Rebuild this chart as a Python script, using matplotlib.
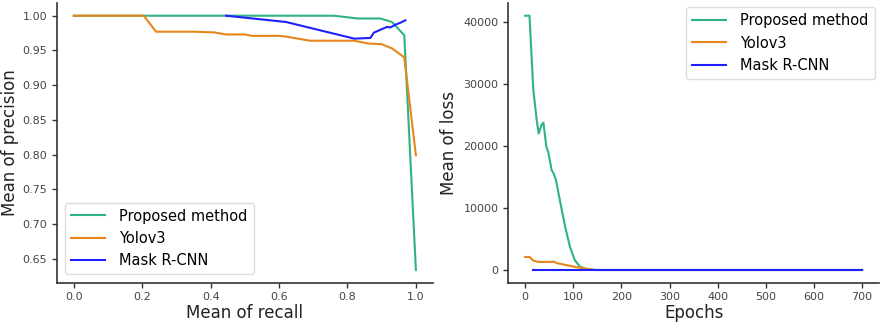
import matplotlib
matplotlib.use("Agg")
import matplotlib.pyplot as plt

# ---- Left: precision-recall ----
prop_recall = [0.0, 0.2, 0.4, 0.6, 0.76, 0.83, 0.896, 0.93, 0.966, 1.0]
prop_precision = [1.0, 1.0, 1.0, 1.0, 1.0, 0.996, 0.996, 0.991, 0.972, 0.634]

yolo_recall = [0.0, 0.2045, 0.2405, 0.35, 0.41, 0.445, 0.5, 0.52, 0.6, 0.62, 0.69, 0.82,
               0.86, 0.9, 0.93, 0.966, 1.0]
yolo_precision = [1.0, 1.0, 0.977, 0.977, 0.976, 0.973, 0.973, 0.971, 0.971, 0.970, 0.964,
                  0.964, 0.960, 0.959, 0.953, 0.940, 0.799]

mask_recall = [0.445, 0.62, 0.82, 0.867, 0.877, 0.916, 0.925, 0.94, 0.955, 0.969]
mask_precision = [1.0, 0.991, 0.967, 0.968, 0.9756, 0.984, 0.983, 0.987, 0.990, 0.9934]

# ---- Right: loss curves ----
prop_epochs = [0, 9, 17, 24, 28, 34, 38, 44, 48, 55, 59, 64, 72, 83, 93, 103, 114, 128, 141,
               150, 700]
prop_loss = [41000, 41000, 29000, 24200, 22000, 23400, 23760, 19900, 19000, 16100,
             15600, 14500, 11300, 7000, 3760, 1600, 530, 100, 0, 0, 0]

yolo_epochs = [0, 9, 17, 28, 52, 59, 66, 83, 107, 128, 148, 700]
yolo_loss = [2100, 2100, 1500, 1300, 1300, 1350, 1100, 830, 450, 200, 0, 0]

mask_epochs = [17, 700]
mask_loss = [0, 0]

labels = ["Proposed method", "Yolov3", "Mask R-CNN"]
colors = ["#2eb482", "#e8861c", "#1f1fff"]

plt.rcParams['font.family'] = ['DejaVu Sans']
fig = plt.figure(figsize=(8.8, 3.24), dpi=100)
ax1 = fig.add_axes([56.7 / 880, 1 - 282.7 / 324, (433 - 56.7) / 880, (282.7 - 3) / 324])
ax2 = fig.add_axes([508.3 / 880, 1 - 282.7 / 324, (879 - 508.3) / 880, (282.7 - 3) / 324])

lw = 1.5
ax1.plot(prop_recall, prop_precision, color=colors[0], lw=lw, label=labels[0])
ax1.plot(yolo_recall, yolo_precision, color=colors[1], lw=lw, label=labels[1])
ax1.plot(mask_recall, mask_precision, color=colors[2], lw=lw, label=labels[2])
ax1.set_xlabel("Mean of recall", fontsize=12, color="#222222", labelpad=1)
ax1.set_ylabel("Mean of precision", fontsize=12, color="#222222", labelpad=2)
ax1.set_xticks([0.0, 0.2, 0.4, 0.6, 0.8, 1.0])
ax1.set_yticks([0.65, 0.70, 0.75, 0.80, 0.85, 0.90, 0.95, 1.00])
ax1.legend(loc="lower left", fontsize=10.5, handlelength=2.3, handletextpad=1.0,
           borderaxespad=0.6, labelspacing=0.5, edgecolor="#dddddd", framealpha=1.0)

ax2.plot(prop_epochs, prop_loss, color=colors[0], lw=lw, label=labels[0])
ax2.plot(yolo_epochs, yolo_loss, color=colors[1], lw=lw, label=labels[1])
ax2.plot(mask_epochs, mask_loss, color=colors[2], lw=lw, label=labels[2])
ax2.set_xlim(-35, 735)
ax2.set_ylim(-2050, 43050)
ax2.set_xlabel("Epochs", fontsize=12, color="#222222", labelpad=1)
ax2.set_ylabel("Mean of loss", fontsize=12, color="#222222", labelpad=4)
ax2.set_xticks([0, 100, 200, 300, 400, 500, 600, 700])
ax2.set_yticks([0, 10000, 20000, 30000, 40000])
ax2.legend(loc="upper right", fontsize=10.5, handlelength=2.3, handletextpad=1.0,
           borderaxespad=0.3, labelspacing=0.5, edgecolor="#dddddd", framealpha=1.0)

for ax in (ax1, ax2):
    for s in ("top", "right"):
        ax.spines[s].set_visible(False)
    for s in ("left", "bottom"):
        ax.spines[s].set_color("#333333")
        ax.spines[s].set_linewidth(1.2)
    ax.tick_params(labelsize=8, colors="#333333", labelcolor="#444444", length=3.5, width=1)

fig.savefig("out.png", dpi=100)
